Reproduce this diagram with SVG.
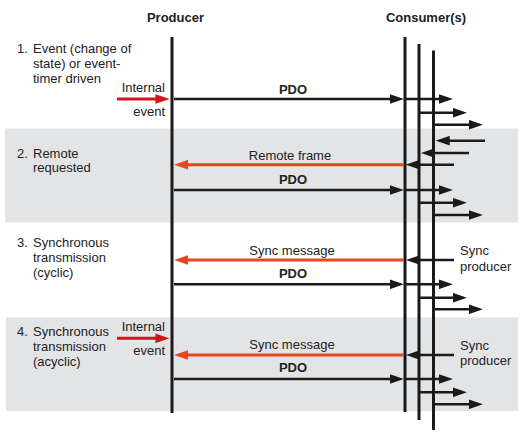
<svg xmlns="http://www.w3.org/2000/svg" width="523" height="442" viewBox="0 0 523 442">
<defs>
<style>
.t{font-family:"Liberation Sans",Arial,sans-serif;font-size:13px;fill:#222}
.b{font-weight:bold}
.m{text-anchor:middle}
.e{text-anchor:end}
.band{fill:#e3e4e6}
.life{stroke:#1a1a1a;stroke-width:3;fill:none}
.blk{stroke:#1a1a1a;stroke-width:2.5;fill:none;marker-end:url(#ah)}
.red{stroke:#e8461e;stroke-width:3;fill:none;marker-end:url(#ahr)}
.ired{stroke:#d4121e;stroke-width:3;fill:none;marker-end:url(#ahi)}
</style>
<marker id="ah" markerUnits="userSpaceOnUse" markerWidth="14" markerHeight="10" refX="1" refY="4.5" orient="auto" viewBox="0 0 13 9"><path d="M0,0 L13,4.5 L0,9 z" fill="#1a1a1a"/></marker>
<marker id="ahr" markerUnits="userSpaceOnUse" markerWidth="14" markerHeight="10" refX="1" refY="4.5" orient="auto" viewBox="0 0 13 9"><path d="M0,0 L13,4.5 L0,9 z" fill="#e8461e"/></marker>
<marker id="ahi" markerUnits="userSpaceOnUse" markerWidth="14" markerHeight="10" refX="1" refY="4.5" orient="auto" viewBox="0 0 13 9"><path d="M0,0 L13,4.5 L0,9 z" fill="#d4121e"/></marker>
</defs>
<rect width="523" height="442" fill="#fff"/>
<rect class="band" x="5" y="128.5" width="513" height="94"/>
<rect class="band" x="6" y="317.5" width="512" height="93.5"/>

<g id="producer">
<text class="t b m" x="175.5" y="22">Producer</text>
<line class="life" x1="172" y1="37" x2="172" y2="413"/>
</g>
<g id="consumers">
<text class="t b m" x="426" y="22">Consumer(s)</text>
<line class="life" x1="405" y1="37" x2="405" y2="412"/>
<line class="life" x1="419" y1="44" x2="419" y2="420"/>
<line class="life" x1="433.5" y1="50.5" x2="433.5" y2="430"/>
</g>

<g id="row1">
<text class="t" x="17" y="52.5">1.</text>
<text class="t" x="33" y="52.5">Event (change of</text>
<text class="t" x="33" y="67.5">state) or event-</text>
<text class="t" x="33" y="82.5">timer driven</text>
<text class="t e" x="165" y="91.5">Internal</text>
<text class="t e" x="165" y="115.5">event</text>
<text class="t b m" x="293" y="93.7">PDO</text>
</g>
<g id="row2">
<text class="t" x="17" y="157.5">2.</text>
<text class="t" x="33" y="157.5">Remote</text>
<text class="t" x="33" y="172">requested</text>
<text class="t m" x="290" y="159.5">Remote frame</text>
<text class="t b m" x="293" y="184.4">PDO</text>
</g>
<g id="row3">
<text class="t" x="17" y="247">3.</text>
<text class="t" x="33" y="247">Synchronous</text>
<text class="t" x="33" y="262">transmission</text>
<text class="t" x="33" y="277">(cyclic)</text>
<text class="t m" x="292" y="254.5">Sync message</text>
<text class="t b m" x="293" y="278">PDO</text>
<text class="t" x="460" y="255">Sync</text>
<text class="t" x="460" y="271">producer</text>
</g>
<g id="row4">
<text class="t" x="17" y="336">4.</text>
<text class="t" x="33" y="336">Synchronous</text>
<text class="t" x="33" y="351">transmission</text>
<text class="t" x="33" y="366">(acyclic)</text>
<text class="t e" x="165" y="330.5">Internal</text>
<text class="t e" x="165" y="355">event</text>
<text class="t m" x="292" y="348.5">Sync message</text>
<text class="t b m" x="293" y="372.4">PDO</text>
<text class="t" x="460" y="349.5">Sync</text>
<text class="t" x="460" y="365">producer</text>
</g>

<g id="connectors">
<!-- row 1 -->
<line class="ired" x1="117" y1="99" x2="156.5" y2="99"/>
<line class="blk" x1="174" y1="99" x2="391" y2="99"/>
<line class="blk" x1="405" y1="99" x2="440" y2="99"/>
<line class="blk" x1="419" y1="112.7" x2="454" y2="112.7"/>
<line class="blk" x1="433.5" y1="124.7" x2="470" y2="124.7"/>
<!-- row 2 -->
<line class="blk" x1="485" y1="140.7" x2="448.7" y2="140.7"/>
<line class="blk" x1="469" y1="153" x2="433.7" y2="153"/>
<line class="blk" x1="454" y1="164.7" x2="418.7" y2="164.7"/>
<line class="red" x1="404" y1="164.7" x2="187" y2="164.7"/>
<line class="blk" x1="174" y1="190" x2="391" y2="190"/>
<line class="blk" x1="405" y1="190" x2="440" y2="190"/>
<line class="blk" x1="419" y1="202.7" x2="454" y2="202.7"/>
<line class="blk" x1="433.5" y1="215" x2="470" y2="215"/>
<!-- row 3 -->
<line class="red" x1="404" y1="260" x2="187" y2="260"/>
<line class="blk" x1="454" y1="260" x2="418.7" y2="260"/>
<line class="blk" x1="174" y1="284.3" x2="391" y2="284.3"/>
<line class="blk" x1="405" y1="284.3" x2="440" y2="284.3"/>
<line class="blk" x1="419" y1="297.7" x2="454" y2="297.7"/>
<line class="blk" x1="433.5" y1="309.3" x2="470" y2="309.3"/>
<!-- row 4 -->
<line class="ired" x1="117" y1="338.3" x2="156.5" y2="338.3"/>
<line class="red" x1="404" y1="355" x2="187" y2="355"/>
<line class="blk" x1="454" y1="355" x2="418.7" y2="355"/>
<line class="blk" x1="174" y1="379" x2="391" y2="379"/>
<line class="blk" x1="405" y1="379" x2="440" y2="379"/>
<line class="blk" x1="419" y1="392.3" x2="454" y2="392.3"/>
<line class="blk" x1="433.5" y1="404.3" x2="470" y2="404.3"/>
</g>
</svg>
